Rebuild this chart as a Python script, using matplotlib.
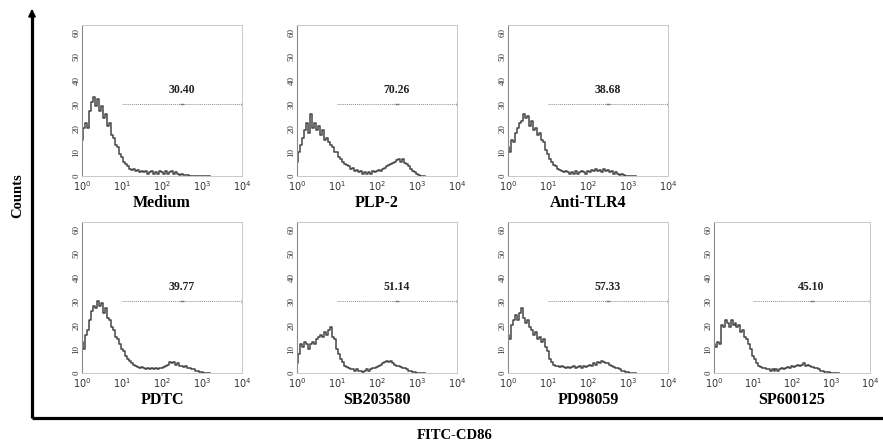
import numpy as np
import matplotlib
matplotlib.use('Agg')
from matplotlib import pyplot as plt

# log10 of fluorescence channel, 10^0 .. 10^3.2
log_channel = np.linspace(0, 3.2, 65)

names = ['Medium', 'PLP-2', 'Anti-TLR4', 'PDTC', 'SB203580', 'PD98059', 'SP600125']
gate_pct = ['30.40', '70.26', '38.68', '39.77', '51.14', '57.33', '45.10']

medium = [15, 20, 22, 20, 27, 31, 33, 29, 32, 27,
          29, 24, 26, 21, 22, 17, 16, 13, 12, 9,
          8, 6, 5, 4, 3, 2.5, 3, 2, 2.5, 1.5,
          2, 1.5, 2, 1, 1.5, 2, 1, 1.5, 1, 2,
          1.5, 1, 2, 1, 1.5, 2, 1, 1.5, 1, 0.5,
          1, 0.5, 0.5, 0.3, 0.2, 0, 0, 0, 0, 0,
          0, 0, 0, 0, 0]
plp2 = [6, 10, 13, 16, 19, 22, 18, 26, 20, 22,
        19, 21, 17, 19, 15, 16, 14, 13, 12, 10,
        10, 8, 7, 6, 5, 4.5, 4, 3, 3.5, 2,
        2.5, 1.5, 2, 1, 1.5, 1, 1.5, 1, 2, 1.5,
        2, 2.5, 2, 3, 3.5, 4, 4.5, 5, 5.5, 6,
        6.5, 7, 6, 7, 5.5, 5, 4, 3, 2, 1.5,
        0.8, 0.3, 0, 0, 0]
anti_tlr4 = [12, 10, 15, 14, 18, 20, 22, 23, 26, 24,
             25, 21, 23, 19, 20, 17, 18, 15, 14, 11,
             9, 7, 6, 4.5, 4, 3, 2.5, 2, 1.5, 2,
             1.5, 1, 1.5, 1, 2, 1, 1.5, 2, 1.5, 1,
             2, 1.5, 2.5, 2, 3, 2, 2.5, 1.5, 3, 2,
             2.5, 1.5, 2, 1, 1.5, 1, 0.5, 0.8, 0.3, 0.2,
             0, 0, 0, 0, 0]
pdtc = [13, 10, 16, 18, 22, 26, 28, 27, 30, 28,
        29, 25, 27, 23, 22, 19, 18, 15, 14, 12,
        10, 9, 7, 6, 5, 4, 3.5, 3, 2.5, 2,
        2.5, 2, 1.5, 2, 1.5, 2, 1.5, 2, 1.5, 2,
        2, 2.5, 3, 3.5, 4.5, 4, 4.5, 3.5, 4, 3,
        3, 2.5, 3, 2, 2, 1.5, 1.5, 1, 1, 0.5,
        0.3, 0, 0, 0, 0]
sb203580 = [4, 8, 12, 11, 13, 12, 10, 12, 13, 12,
            14, 15, 16, 15, 17, 16, 18, 19, 15, 14,
            10, 8, 6, 4.5, 3, 2.5, 2, 1.5, 1.5, 1,
            1.5, 1, 1, 0.5, 1, 1.5, 1, 1.5, 2, 2,
            2.5, 3, 3.5, 4, 4.5, 5, 4.5, 5, 4, 3.5,
            3, 3, 2.5, 2, 2, 1.5, 1, 1, 0.5, 0.5,
            0.2, 0, 0, 0, 0]
pd98059 = [16, 14, 20, 22, 24, 22, 25, 27, 23, 21,
           22, 19, 18, 16, 17, 14, 15, 13, 14, 11,
           9, 6, 4.5, 3.5, 3, 3, 2.5, 3, 2.5, 2,
           2.5, 2, 2.5, 3, 2, 2.5, 3, 2, 3, 2.5,
           3, 3.5, 3, 4, 3.5, 4.5, 4, 5, 4.5, 4,
           4, 3.5, 3, 2.5, 2, 2, 1.5, 1, 1, 0.5,
           0.3, 0, 0, 0, 0]
sp600125 = [12, 11, 13, 12, 20, 19, 22, 21, 19, 22,
            20, 21, 19, 20, 17, 18, 15, 14, 12, 10,
            7, 6, 4, 3, 2.5, 2, 2, 1.5, 1.5, 1,
            1.5, 1, 1.5, 1, 1.5, 2, 1.5, 2, 2.5, 2,
            3, 2.5, 3, 3.5, 3, 3.5, 4, 3, 3.5, 3,
            2.5, 2.5, 2, 2, 1.5, 1, 1, 0.5, 0.5, 0.3,
            0.2, 0, 0, 0, 0]
counts = [medium, plp2, anti_tlr4, pdtc, sb203580, pd98059, sp600125]

# panel slots (row, col)
slots = [(0, 0), (0, 1), (0, 2), (1, 0), (1, 1), (1, 2), (1, 3)]

W, H = 883, 444
fig = plt.figure(figsize=(W / 100, H / 100), dpi=100)
serif = 'Liberation Serif'

col_left = [82, 297, 508, 714]
row_top = [25, 222]
pw, ph = 160, 151

x = 10 ** log_channel
for i, (r, c) in enumerate(slots):
    ax = fig.add_axes([col_left[c] / W, 1 - (row_top[r] + ph) / H, (pw - 4 * (c == 3)) / W, ph / H])
    ax.plot(x, counts[i], drawstyle='steps-mid', color='#454545', lw=1.1)
    ax.set_xscale('log')
    ax.set_xlim(1, 1e4)
    ax.set_ylim(0, 63)
    # gate marker
    ax.plot([10, 1e4], [30, 30], color='#8c8c8c', lw=0.7, ls=(0, (1, 1)))
    ax.plot([10 ** 2.5], [30], marker='_', color='#777777', ms=3)
    ax.plot([1e4], [30], marker='|', color='#777777', ms=3)
    ax.text(10 ** 2.5, 36, gate_pct[i], ha='center', va='center',
            fontsize=8.5, fontweight='bold', family=serif, color='#222222')
    ax.set_xticks([1, 10, 100, 1000, 10000])
    ax.set_xticklabels(['$10^0$', '$10^1$', '$10^2$', '$10^3$', '$10^4$'])
    ax.minorticks_off()
    ax.set_yticks(range(0, 61, 10))
    ax.tick_params(axis='x', length=0, pad=2, labelsize=7, labelcolor='#333333')
    ax.tick_params(axis='y', length=0, pad=1, labelsize=6.5, labelcolor='#333333',
                   labelrotation=90)
    for lab in ax.get_yticklabels() + ax.get_xticklabels():
        lab.set_family(serif)
    for lab in ax.get_yticklabels():
        lab.set_va('center')
    for s in ['top', 'right', 'bottom']:
        ax.spines[s].set_color('#c8c8c8')
        ax.spines[s].set_linewidth(0.7)
    ax.spines['left'].set_color('#8a8a8a')
    ax.spines['left'].set_linewidth(0.8)
    ax.set_xlabel(names[i], fontsize=11.5, fontweight='bold', family=serif, labelpad=2)

# big L-shaped axes
ov = fig.add_axes([0, 0, 1, 1])
ov.set_xlim(0, W)
ov.set_ylim(H, 0)
ov.axis('off')
ov.plot([32, 32], [418, 14], color='black', lw=2.3, solid_capstyle='butt')
ov.plot([32, W], [418, 418], color='black', lw=2.3, solid_capstyle='butt')
ov.annotate('', xy=(32, 6), xytext=(32, 16),
            arrowprops=dict(arrowstyle='-|>', color='black', lw=1.5, mutation_scale=10))
ov.text(18, 196, 'Counts', rotation=90, ha='center', va='center',
        fontsize=10.5, fontweight='bold', family=serif)
ov.text(455, 435, 'FITC-CD86', ha='center', va='center',
        fontsize=10.5, fontweight='bold', family=serif)

fig.savefig('out.png', dpi=100)
